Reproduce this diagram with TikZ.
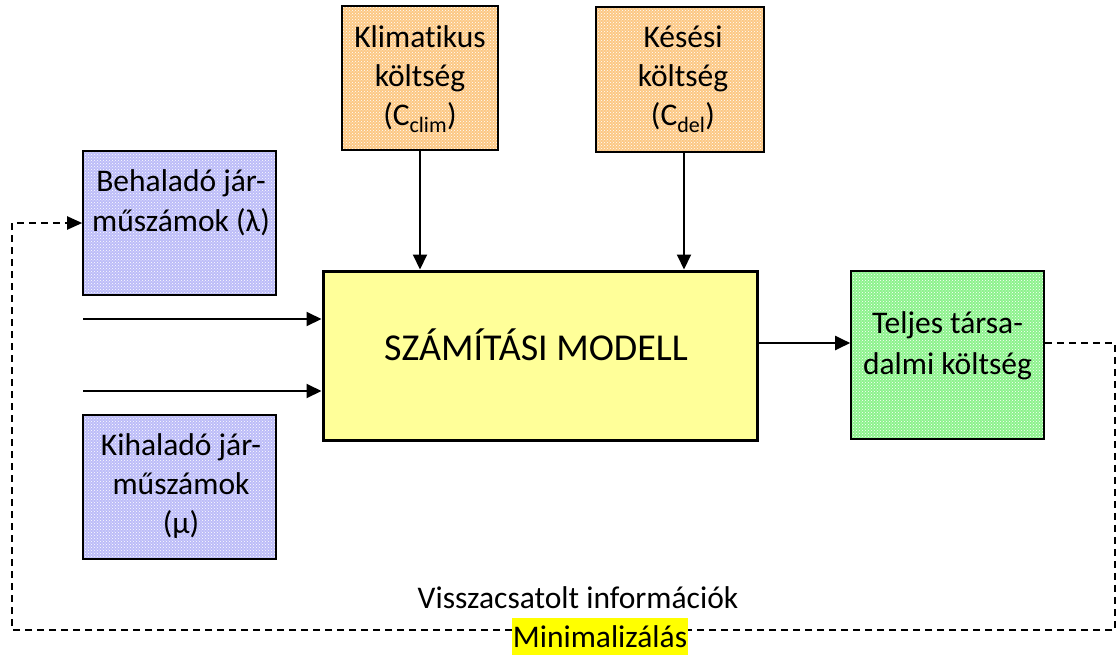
\documentclass[tikz,border=0pt]{standalone}
\usepackage{fontspec}
\setmainfont{Carlito}[Ligatures=CommonOff]
\usetikzlibrary{arrows.meta,patterns}

\definecolor{orangefill}{RGB}{252,200,132}
\definecolor{bluefill}{RGB}{188,188,248}
\definecolor{greenfill}{RGB}{140,242,140}
\definecolor{modelfill}{RGB}{255,255,153}
\definecolor{marker}{RGB}{255,255,0}

\begin{document}
\begin{tikzpicture}[x=1pt,y=-1pt,
  font=\fontsize{31.5}{39}\selectfont,
  box/.style={draw=black, line width=1.6pt, inner sep=0pt},
  dotted fill/.style={preaction={fill=#1}, pattern=crosshatch dots, pattern color=white},
  orangebox/.style={box, dotted fill=orangefill},
  bluebox/.style={box, dotted fill=bluefill},
  greenbox/.style={box, dotted fill=greenfill},
  modelbox/.style={draw=black, line width=3pt, fill=modelfill, inner sep=0pt},
  boxtext/.style={align=center, inner sep=0pt},
  arr/.style={line width=2pt, -{Triangle[length=15pt,width=14pt]}},
  feedback/.style={line width=2pt, dash pattern=on 7pt off 5pt},
  feedbackarr/.style={feedback, -{Triangle[length=15pt,width=13pt]}}
]
\useasboundingbox (0,0) rectangle (1117,654);

% cost inputs on top
\node[orangebox, minimum width=156pt, minimum height=144pt] (klim) at (420,78) {};
\node[boxtext] (klimtext) at (420,79) {Klimatikus\\költség\\(C\textsubscript{clim})};
\node[orangebox, minimum width=168pt, minimum height=145pt] (kes) at (680,79.5) {};
\node[boxtext] (kestext) at (683,79) {Késési\\költség\\(C\textsubscript{del})};

% traffic volumes on the left
\node[bluebox, minimum width=193pt, minimum height=144pt] (beh) at (179.5,223) {};
\node[boxtext, font=\fontsize{31.5}{40}\selectfont] (behtext) at (181,203) {Behaladó jár-\\műszámok (λ)};
\node[bluebox, minimum width=193pt, minimum height=144pt] (kih) at (179.5,487) {};
\node[boxtext] (kihtext) at (181,486) {Kihaladó jár-\\műszámok\\(μ)};

% the model
\node[modelbox, minimum width=434pt, minimum height=169pt] (model) at (540,355.5) {};
\node[inner sep=0pt, anchor=base, font=\fontsize{38}{42}\selectfont] (modeltext) at (536,360) {SZÁMÍTÁSI MODELL};

% total cost output
\node[greenbox, minimum width=193pt, minimum height=168pt] (total) at (947.5,355) {};
\node[boxtext, font=\fontsize{31.5}{41}\selectfont] (totaltext) at (947.5,346) {Teljes társa-\\dalmi költség};

% solid connectors
\coordinate (in1) at (83,319);
\coordinate (in2) at (83,391);
\draw[arr] (in1) -- (in1 -| model.west);
\draw[arr] (in2) -- (in2 -| model.west);
\draw[arr] (klim.south) -- (model.north -| klim.south);
\draw[arr] (kes.south -| 684,0) -- (model.north -| 684,0);
\draw[arr] (model.east |- 0,343) -- (total.west |- 0,343);

% feedback loop
\coordinate (fbr) at (1115,343);
\coordinate (fbbr) at (1115,630);
\coordinate (fbbl) at (12,630);
\coordinate (fbl) at (12,223);
\draw[feedbackarr] (total.east |- fbr) -- (fbr) -- (fbbr) -- (fbbl) -- (fbl) -- (beh.west |- fbl);

\node[inner sep=0pt, anchor=base] (vissza) at (578,608) {Visszacsatolt információk};
\node[fill=marker, inner xsep=1pt, inner ysep=0pt, text height=29pt, text depth=10pt, anchor=base] (mini) at (600,647) {Minimalizálás};
\end{tikzpicture}
\end{document}
